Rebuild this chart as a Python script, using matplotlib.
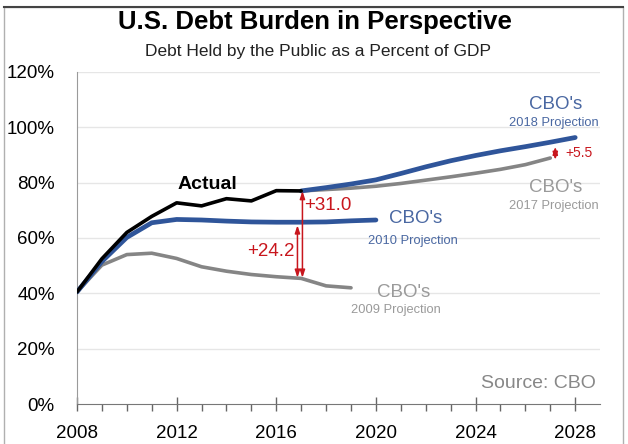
import matplotlib
matplotlib.use('Agg')
import matplotlib.pyplot as plt
from matplotlib.patches import Rectangle
from matplotlib.lines import Line2D

plt.rcParams['font.family'] = ['Liberation Sans', 'DejaVu Sans']

# data (debt held by public, % of GDP)
actual_years = [2008, 2009, 2010, 2011, 2012, 2013, 2014, 2015, 2016, 2017]
actual = [40.5, 52.5, 62.0, 67.8, 72.7, 71.6, 74.2, 73.4, 77.1, 77.0]

p2009_years = [2008, 2009, 2010, 2011, 2012, 2013, 2014, 2015, 2016, 2017, 2018, 2019]
p2009 = [40.5, 50.2, 54.0, 54.5, 52.6, 49.6, 48.0, 46.8, 46.0, 45.4, 42.7, 42.0]

p2010_years = [2008, 2009, 2010, 2011, 2012, 2013, 2014, 2015, 2016, 2017, 2018, 2019, 2020]
p2010 = [40.5, 51.5, 60.2, 65.5, 66.7, 66.5, 66.1, 65.8, 65.7, 65.7, 65.8, 66.2, 66.5]

p2017_years = [2017, 2018, 2019, 2020, 2021, 2022, 2023, 2024, 2025, 2026, 2027]
p2017 = [77.0, 77.5, 78.0, 78.7, 79.7, 80.9, 82.1, 83.4, 84.8, 86.5, 88.9]

p2018_years = [2017, 2018, 2019, 2020, 2021, 2022, 2023, 2024, 2025, 2026, 2027, 2028]
p2018 = [77.0, 78.2, 79.5, 81.0, 83.3, 85.7, 87.9, 89.8, 91.5, 93.0, 94.6, 96.3]

yticks = [0, 20, 40, 60, 80, 100, 120]
xticks = [2008, 2012, 2016, 2020, 2024, 2028]

blue = '#2f559a'
gray = '#858585'
red = '#c8161d'
lblue = '#4a68a2'
lgray = '#9a9a9a'

fig = plt.figure(figsize=(6.28, 4.44), dpi=100)
ax = fig.add_axes([0.1226, 0.090, 0.833, 0.748])

# lines
ax.plot(p2009_years, p2009, color=gray, lw=2.6, solid_capstyle='round', zorder=3)
ax.plot(p2010_years, p2010, color=blue, lw=3.4, solid_capstyle='round', zorder=4)
ax.plot(p2017_years, p2017, color=gray, lw=2.6, solid_capstyle='round', zorder=3)
ax.plot(p2018_years, p2018, color=blue, lw=3.4, solid_capstyle='round', zorder=4)
ax.plot(actual_years, actual, color='black', lw=2.6, solid_capstyle='round', zorder=5)

# difference arrows
def darrow(x, y0, y1):
    ax.annotate('', xy=(x, y0), xytext=(x, y1),
                arrowprops=dict(arrowstyle='<|-|>,head_length=0.45,head_width=0.15',
                                color=red, lw=1.1, shrinkA=0, shrinkB=0), zorder=6)

darrow(2017.05, 45.6, 77.0)
darrow(2016.85, 45.6, 64.6)
darrow(2027.2, 88.2, 93.0)

# labels
ax.text(2013.24, 79.5, 'Actual', fontsize=14, fontweight='bold', ha='center', va='center')
ax.text(2017.1, 71.6, '+31.0', fontsize=13.5, color=red, ha='left', va='center')
ax.text(2016.75, 55.0, '+24.2', fontsize=13.5, color=red, ha='right', va='center')
ax.text(2027.6, 90.6, '+5.5', fontsize=10, color=red, ha='left', va='center')

ax.text(2021.6, 66.9, "CBO's", fontsize=13.5, color=lblue, ha='center', va='center')
ax.text(2021.5, 59.0, '2010 Projection', fontsize=9.3, color=lblue, ha='center', va='center')
ax.text(2027.2, 108.3, "CBO's", fontsize=13.5, color=lblue, ha='center', va='center')
ax.text(2027.15, 101.4, '2018 Projection', fontsize=9.3, color=lblue, ha='center', va='center')
ax.text(2027.2, 78.4, "CBO's", fontsize=13.5, color=lgray, ha='center', va='center')
ax.text(2027.15, 71.6, '2017 Projection', fontsize=9.3, color=lgray, ha='center', va='center')
ax.text(2021.1, 40.3, "CBO's", fontsize=13.5, color=lgray, ha='center', va='center')
ax.text(2020.8, 33.8, '2009 Projection', fontsize=9.3, color=lgray, ha='center', va='center')
ax.text(2028.84, 7.5, 'Source: CBO', fontsize=14, color='#888888', ha='right', va='center')

# axes styling
ax.set_xlim(2008, 2029)
ax.set_ylim(0, 120)
ax.set_yticks(yticks)
ax.set_yticklabels([f'{v}%' for v in yticks])
ax.set_xticks(xticks)
ax.set_xticklabels([str(v) for v in xticks])
ax.set_xticks(range(2008, 2029), minor=True)
for v in yticks[1:]:
    ax.axhline(v, color='#e6e6e6', lw=1, zorder=1)
for s in ['top', 'right']:
    ax.spines[s].set_visible(False)
ax.spines['left'].set_color('#9a9a9a')
ax.spines['bottom'].set_color('#777777')
ax.tick_params(axis='y', length=0, pad=16, labelsize=13.5)
ax.tick_params(axis='x', which='major', direction='inout', length=10, width=1,
               color='#666666', pad=10, labelsize=13.5)
ax.tick_params(axis='x', which='minor', direction='out', length=5, width=1, color='#666666')

# title
fig.text(0.502, 0.950, 'U.S. Debt Burden in Perspective', fontsize=18.5, fontweight='bold',
         ha='center', va='center')
fig.text(0.506, 0.883, 'Debt Held by the Public as a Percent of GDP', fontsize=12.5,
         ha='center', va='center', color='#222222')

# frame around the picture
fig.patches.append(Rectangle((0.006, -0.01), 0.986, 0.995, transform=fig.transFigure,
                             fill=False, edgecolor='#b0b0b0', lw=1))
fig.lines.append(Line2D([0.006, 0.992], [0.985, 0.985], transform=fig.transFigure,
                        color='#444444', lw=1.5))

fig.savefig('out.png', dpi=100)
